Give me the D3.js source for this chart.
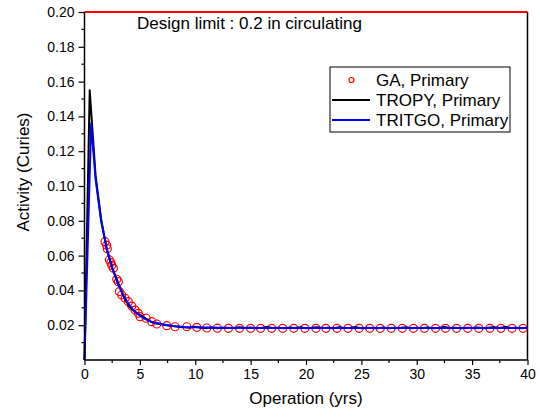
<!DOCTYPE html>
<html><head><meta charset="utf-8">
<script src="https://cdn.jsdelivr.net/npm/d3@7"></script>
<style>
body{margin:0;background:#fff;}
svg{display:block;font-family:Arial,"Liberation Sans",sans-serif;}
</style></head>
<body><svg id="c" width="540" height="417"></svg>
<script>
// ---- data ----
const gaYears = [1.85,2.0,2.06,2.25,2.37,2.46,2.61,2.91,3.06,3.15,3.36,3.66,3.96,4.27,4.57,4.86,5.02,5.56,6.08,6.53,7.43,8.18,9.24,10.14,11.05,12.0,13.0,14.0,15.0,15.9,16.9,17.9,18.9,19.9,20.9,21.8,22.8,23.8,24.8,25.75,26.7,27.7,28.7,29.7,30.7,31.7,32.6,33.6,34.6,35.6,36.6,37.6,38.6,39.6];
const gaValues = [0.068,0.066,0.064,0.0575,0.056,0.0544,0.0527,0.0464,0.045,0.0393,0.0374,0.0355,0.0335,0.031,0.0287,0.0268,0.0249,0.024,0.022,0.0207,0.0197,0.0191,0.0191,0.0188,0.0184,0.0183,0.0182,0.0182,0.0182,0.0182,0.0182,0.0182,0.0182,0.0182,0.0182,0.0182,0.0182,0.0182,0.0182,0.0182,0.0182,0.0182,0.0182,0.0182,0.0182,0.0182,0.0182,0.0182,0.0182,0.0182,0.0182,0.0182,0.0182,0.0182];

const tropyYears = [0,0.47,1.0,1.5,2.0,2.5,3.0,3.5,4.0,4.5,5.0,5.5,6.0,6.5,7.0,7.5,8.0,8.5,9.0,9.5,10.0,10.5,11.0,11.5,12.0,12.5,13.0,13.5,14.0,14.5,15.0,15.5,16.0,16.5,17.0,17.5,18.0,18.5,19.0,19.5,20.0,20.5,21.0,21.5,22.0,22.5,23.0,23.5,24.0,24.5,25.0,25.5,26.0,26.5,27.0,27.5,28.0,28.5,29.0,29.5,30.0,30.5,31.0,31.5,32.0,32.5,33.0,33.5,34.0,34.5,35.0,35.5,36.0,36.5,37.0,37.5,38.0,38.5,39.0,39.5,40.0];
const tropyValues = [0,0.155,0.106,0.081,0.064,0.053,0.045,0.037,0.031,0.028,0.026,0.024,0.022,0.021,0.0205,0.0198,0.0195,0.0191,0.0188,0.0186,0.0191,0.0185,0.0184,0.0187,0.0183,0.0186,0.0184,0.0184,0.0189,0.0184,0.0187,0.0183,0.0185,0.0190,0.0184,0.0186,0.0183,0.0187,0.0184,0.0189,0.0183,0.0185,0.0188,0.0184,0.0186,0.0183,0.0188,0.0184,0.0185,0.0189,0.0183,0.0186,0.0184,0.0182,0.0187,0.0183,0.0186,0.0184,0.0188,0.0183,0.0185,0.0184,0.0187,0.0183,0.0186,0.0190,0.0184,0.0185,0.0183,0.0186,0.0184,0.0187,0.0183,0.0186,0.0189,0.0184,0.0190,0.0184,0.0186,0.0183,0.0185];

const tritgoYears = [0,0.6,1.0,1.5,2.0,2.5,3.0,3.5,4.0,4.5,5.0,5.5,6.0,7.0,8.0,9.0,10.0,12.0,15.0,20.0,25.0,30.0,35.0,40.0];
const tritgoValues = [0,0.136,0.104,0.080,0.064,0.053,0.044,0.037,0.032,0.028,0.0255,0.0235,0.022,0.0205,0.0195,0.019,0.0188,0.0185,0.0184,0.0184,0.0184,0.0184,0.0184,0.0184];

const designLimit = 0.2;
const xTicks = [0,5,10,15,20,25,30,35,40];
const yTicks = [0.02,0.04,0.06,0.08,0.10,0.12,0.14,0.16,0.18,0.20];
const seriesNames = ["GA, Primary","TROPY, Primary","TRITGO, Primary"];

// ---- chart ----
const svg = d3.select("#c");
const x = d3.scaleLinear().domain([0,40]).range([84.5,527.5]);
const y = d3.scaleLinear().domain([0,0.2]).range([360,12]);

// frame right side
svg.append("line").attr("x1",x(40)).attr("x2",x(40)).attr("y1",y(0.2)).attr("y2",y(0))
  .attr("stroke","#000").attr("stroke-width",1.5);

// design limit
svg.append("line").attr("x1",x(0)).attr("x2",x(40)).attr("y1",y(designLimit)).attr("y2",y(designLimit))
  .attr("stroke","#ff0000").attr("stroke-width",2);
svg.append("text").attr("x",137).attr("y",29).attr("font-size",17).attr("fill","#000")
  .text("Design limit : 0.2 in circulating");

// GA circles
svg.append("g").selectAll("circle").data(gaYears.map((t,i)=>[t,gaValues[i]])).join("circle")
  .attr("cx",d=>x(d[0])).attr("cy",d=>y(d[1])).attr("r",4)
  .attr("fill","none").attr("stroke","#ff0000").attr("stroke-width",1.2);

const line = d3.line().x(d=>x(d[0])).y(d=>y(d[1]));
svg.append("path").datum(tropyYears.map((t,i)=>[t,tropyValues[i]])).attr("d",line)
  .attr("fill","none").attr("stroke","#000").attr("stroke-width",2).attr("stroke-linejoin","round");
svg.append("path").datum(tritgoYears.map((t,i)=>[t,tritgoValues[i]])).attr("d",line)
  .attr("fill","none").attr("stroke","#0000ff").attr("stroke-width",2).attr("stroke-linejoin","round");

// axes
const xMinor = d3.range(0,41,2.5).filter(v=>v%5!==0);
const yMinor = d3.range(1,20,2).map(v=>v/100);
const gx = svg.append("g").attr("transform",`translate(0,${y(0)})`)
  .call(d3.axisBottom(x).tickValues(xTicks).tickSize(5).tickPadding(4).tickFormat(d3.format("d")));
gx.append("g").selectAll("line").data(xMinor).join("line")
  .attr("x1",d=>x(d)).attr("x2",d=>x(d)).attr("y1",0).attr("y2",3).attr("stroke","#000").attr("stroke-width",1.2);
const gy = svg.append("g").attr("transform",`translate(${x(0)},0)`)
  .call(d3.axisLeft(y).tickValues(yTicks).tickSize(6).tickPadding(4).tickFormat(d3.format(".2f")));
gy.append("g").selectAll("line").data(yMinor).join("line")
  .attr("x1",0).attr("x2",-3).attr("y1",d=>y(d)).attr("y2",d=>y(d)).attr("stroke","#000").attr("stroke-width",1.2);
[gx,gy].forEach(g=>{
  g.select(".domain").attr("stroke","#000").attr("stroke-width",1.5);
  g.selectAll(".tick line").attr("stroke","#000").attr("stroke-width",1.2);
  g.selectAll("text").attr("font-size",14).attr("font-family","Arial,'Liberation Sans',sans-serif").attr("fill","#000");
});
gx.select(".domain").attr("d",`M${x(0)},0H${x(40)}`);
gy.select(".domain").attr("d",`M0,${y(0)}V${y(0.2)}`);

// titles
svg.append("text").attr("x",(x(0)+x(40))/2).attr("y",404).attr("text-anchor","middle")
  .attr("font-size",17).text("Operation (yrs)");
svg.append("text").attr("transform","translate(29,172) rotate(-90)").attr("text-anchor","middle")
  .attr("font-size",17).text("Activity (Curies)");

// legend
const lg = svg.append("g");
lg.append("rect").attr("x",330).attr("y",67).attr("width",180).attr("height",65)
  .attr("fill","#fff").attr("stroke","#000").attr("stroke-width",1);
const rowsY = [86,106,126];
lg.append("circle").attr("cx",351.5).attr("cy",rowsY[0]-6).attr("r",2.5)
  .attr("fill","none").attr("stroke","#ff0000").attr("stroke-width",1.2);
lg.append("line").attr("x1",332).attr("x2",370).attr("y1",rowsY[1]-6).attr("y2",rowsY[1]-6).attr("stroke","#000").attr("stroke-width",2);
lg.append("line").attr("x1",332).attr("x2",370).attr("y1",rowsY[2]-6).attr("y2",rowsY[2]-6).attr("stroke","#0000ff").attr("stroke-width",2);
lg.selectAll("text.l").data(seriesNames).join("text").attr("class","l")
  .attr("x",376).attr("y",(d,i)=>rowsY[i]).attr("font-size",17).text(d=>d);
</script></body></html>
